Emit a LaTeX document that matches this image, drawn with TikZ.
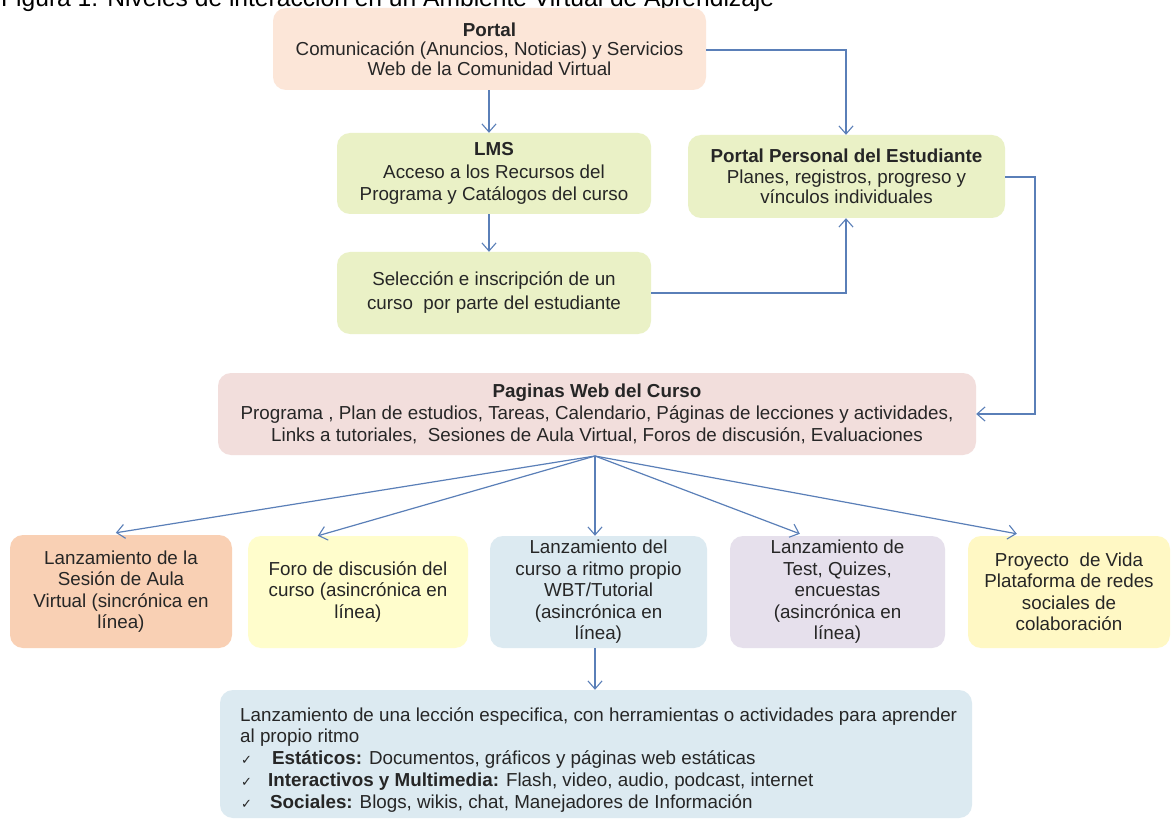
\documentclass[tikz,border=0pt]{standalone}
\usepackage{fontspec}
\setmainfont{Liberation Sans}
\newfontfamily\symfont{DejaVu Sans}
\usetikzlibrary{arrows.meta,calc}
\definecolor{cPortal}{HTML}{FCE6D8}
\definecolor{cGreen}{HTML}{EAF1C6}
\definecolor{cPag}{HTML}{F2DEDC}
\definecolor{cOrange}{HTML}{F9D0B4}
\definecolor{cYellow}{HTML}{FFFDCC}
\definecolor{cBlue}{HTML}{DCEAF1}
\definecolor{cLav}{HTML}{E6E0EC}
\definecolor{cYellowB}{HTML}{FFF8C4}
\definecolor{cLine}{HTML}{5A7FB8}
\definecolor{cText}{HTML}{262626}
\tikzset{
  box/.style={rounded corners=13pt, inner sep=2pt, align=center, text=cText,
    font=\fontsize{18.8}{21.5}\selectfont},
  conn/.style={draw=cLine, line width=1.2pt,
    -{Straight Barb[length=8pt,width=14pt,line width=1.1pt]}},
  line/.style={anchor=base west, inner sep=0pt, text=cText,
    font=\fontsize{18.8}{21.5}\selectfont},
  tick/.style={anchor=base west, inner sep=0pt, text=cText,
    font=\symfont\fontsize{13}{16}\selectfont},
}
\begin{document}
\begin{tikzpicture}[x=1pt,y=-1pt]
\useasboundingbox (0,0) rectangle (1176,821);
\clip (0,0) rectangle (1176,821);
\fill[white] (0,0) rectangle (1176,821);

% caption line along the top edge
\node[anchor=base west, inner sep=0pt, font=\fontsize{24.6}{28}\selectfont] (cap) at (1,7)
  {Figura 1. Niveles de interacción en un Ambiente Virtual de Aprendizaje};

% upper level
\node[box, fill=cPortal, minimum width=433pt, minimum height=82pt,
      font=\fontsize{18.8}{19.5}\selectfont] (portal) at (489.5,49)
  {\textbf{Portal}\\Comunicación (Anuncios, Noticias) y Servicios\\Web de la Comunidad Virtual};
\node[box, fill=cGreen, minimum width=314pt, minimum height=81pt,
      font=\fontsize{18.8}{22.5}\selectfont] (lms) at (494,173.5)
  {\textbf{LMS}\\Acceso a los Recursos del\\Programa y Catálogos del curso};
\node[box, fill=cGreen, minimum width=314pt, minimum height=82pt,
      font=\fontsize{18.8}{24}\selectfont] (sel) at (494,293)
  {Selección e inscripción de un\\curso\ \ por parte del estudiante};
\node[box, fill=cGreen, minimum width=317pt, minimum height=83pt,
      font=\fontsize{18.8}{20.5}\selectfont] (ppe) at (846.5,176.5)
  {\textbf{Portal Personal del Estudiante}\\Planes, registros, progreso y\\vínculos individuales};

% course pages
\node[box, fill=cPag, minimum width=758pt, minimum height=82pt,
      font=\fontsize{18.8}{22}\selectfont] (pag) at (597,414)
  {\textbf{Paginas Web del Curso}\\Programa , Plan de estudios, Tareas, Calendario, Páginas de lecciones y actividades,\\Links a tutoriales,\ \ Sesiones de Aula Virtual, Foros de discusión, Evaluaciones};

% activity row
\node[box, fill=cOrange, minimum width=222pt, minimum height=113pt] (b1) at (121,591.5)
  {Lanzamiento de la\\Sesión de Aula\\Virtual (sincrónica en\\línea)};
\node[box, fill=cYellow, minimum width=220pt, minimum height=112pt] (b2) at (358,592)
  {Foro de discusión del\\curso (asincrónica en\\línea)};
\node[box, fill=cBlue, minimum width=217pt, minimum height=112pt] (b3) at (598.5,592)
  {Lanzamiento del\\curso a ritmo propio\\WBT/Tutorial\\(asincrónica en\\línea)};
\node[box, fill=cLav, minimum width=215pt, minimum height=112pt] (b4) at (837.5,592)
  {Lanzamiento de\\Test, Quizes,\\encuestas\\(asincrónica en\\línea)};
\node[box, fill=cYellowB, minimum width=202pt, minimum height=112pt] (b5) at (1069,592)
  {Proyecto\ \ de Vida\\Plataforma de redes\\sociales de\\colaboración};

% lesson box
\node[box, fill=cBlue, minimum width=752pt, minimum height=128pt] (les) at (596,754) {};
\node[line] (l1) at (240,721) {Lanzamiento de una lección especifica, con herramientas o actividades para aprender};
\node[line] (l2) at (240,742) {al propio ritmo};
\node[tick] (l3) at (241,764) {✓};
\node[line] (l3t) at (272,764) {\textbf{Estáticos:} Documentos, gráficos y páginas web estáticas};
\node[tick] (l4) at (241,786) {✓};
\node[line] (l4t) at (268,786) {\textbf{Interactivos y Multimedia:} Flash, video, audio, podcast, internet};
\node[tick] (l5) at (241,808) {✓};
\node[line] (l5t) at (270,808) {\textbf{Sociales:} Blogs, wikis, chat, Manejadores de Información};

% connectors
\coordinate (pe) at (846,50);
\coordinate (se) at (846,293);
\coordinate (r1) at (1035,177);
\coordinate (r2) at (1035,414);
\coordinate (fan) at (595,456);

\draw[conn] (portal.south -| 489,0) -- (lms.north -| 489,0);
\draw[conn] (lms.south -| 489,0) -- (sel.north -| 489,0);
\draw[conn] (portal.east |- pe) -- (pe) -- (ppe.north -| pe);
\draw[conn] (sel.east) -- (se) -- (ppe.south -| se);
\draw[conn] (ppe.east |- r1) -- (r1) -- (r2) -- (pag.east |- r2);

\draw[conn] (fan) -- ($(b1.north west)+(106,-2)$);
\draw[conn] (fan) -- ($(b2.north west)+(70,0)$);
\draw[conn] (fan) -- (b3.north -| fan);
\draw[conn] (fan) -- ($(b4.north west)+(70,-2)$);
\draw[conn] (fan) -- ($(b5.north west)+(49,-2)$);
\draw[conn] (b3.south -| fan) -- (les.north -| fan);
\end{tikzpicture}
\end{document}
